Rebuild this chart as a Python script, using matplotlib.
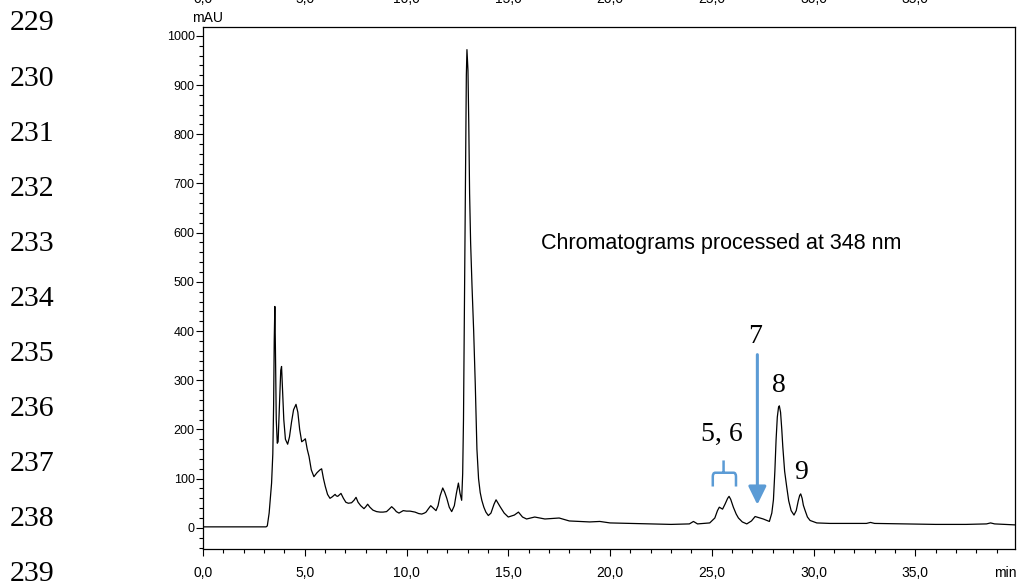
import matplotlib
matplotlib.use("Agg")
import matplotlib.pyplot as plt
from matplotlib import font_manager
from matplotlib.path import Path
from matplotlib.patches import PathPatch
from matplotlib.ticker import MultipleLocator, FuncFormatter
import matplotlib.transforms as mtransforms

# chromatogram trace (min, mAU)
time_min = [0.0, 1.5, 3.1, 3.16, 3.25, 3.37, 3.43, 3.47, 3.50, 3.53, 3.56, 3.6, 3.65,
            3.69, 3.75, 3.82, 3.86, 3.9, 3.97, 4.05, 4.16, 4.25, 4.35, 4.45, 4.57,
            4.66, 4.75, 4.85, 4.95, 5.03, 5.12, 5.21, 5.32, 5.45, 5.6, 5.75, 5.83,
            5.92, 6.01, 6.12, 6.24, 6.35, 6.49, 6.55, 6.62, 6.7, 6.78, 6.9, 7.02,
            7.14, 7.3, 7.42, 7.52, 7.62, 7.75, 7.91, 8.0, 8.09, 8.2, 8.35, 8.53,
            8.7, 8.85, 9.02, 9.15, 9.27, 9.4, 9.5, 9.63, 9.75, 9.84, 10.0, 10.17,
            10.3, 10.42, 10.6, 10.75, 10.88, 10.96, 11.08, 11.19, 11.32, 11.45,
            11.55, 11.65, 11.78, 11.88, 11.98, 12.1, 12.22, 12.35, 12.45, 12.55,
            12.63, 12.71, 12.76, 12.80, 12.85, 12.90, 12.94, 12.97, 13.02, 13.06,
            13.1, 13.15, 13.22, 13.3, 13.38, 13.46, 13.54, 13.62, 13.7, 13.8, 13.9,
            14.02, 14.15, 14.3, 14.4, 14.5, 14.6, 14.8, 15.0, 15.3, 15.5, 15.7,
            15.9, 16.3, 16.8, 17.5, 18.0, 19.0, 19.5, 20.0, 21.0, 22.0, 23.0,
            23.9, 24.1, 24.3, 24.9, 25.15, 25.28, 25.37, 25.45, 25.53, 25.65,
            25.78, 25.85, 25.93, 26.06, 26.2, 26.31, 26.5, 26.72, 26.95, 27.13,
            27.53, 27.83, 27.95, 28.03, 28.1, 28.16, 28.22, 28.28, 28.32, 28.38,
            28.44, 28.49, 28.58, 28.68, 28.78, 28.9, 29.04, 29.15, 29.25, 29.32,
            29.37, 29.44, 29.5, 29.58, 29.7, 29.83, 30.16, 30.8, 31.8,
            32.6, 32.8, 33.0, 34.5, 36.0, 37.5, 38.5, 38.7, 38.9, 39.9]
absorbance_mau = [2, 2, 2, 4, 30, 91, 150, 250, 380, 450, 360, 220, 172,
                  175, 240, 320, 328, 290, 220, 180, 170, 185, 215, 240, 251,
                  235, 200, 175, 178, 181, 160, 145, 118, 104, 112, 118, 120,
                  100, 84, 68, 60, 63, 68, 65, 64, 67, 70, 60, 52,
                  50, 51, 56, 62, 52, 45, 39, 43, 48, 42, 36, 33,
                  32, 32, 33, 38, 43, 38, 33, 30, 33, 35, 34, 34,
                  33, 32, 29, 28, 30, 32, 39, 45, 40, 35,
                  45, 65, 81, 72, 60, 42, 33, 45, 70, 91,
                  70, 56, 110, 220, 480, 760, 920, 972, 930, 820,
                  680, 580, 490, 400, 290, 160, 100, 72, 56, 42, 32,
                  25, 30, 48, 57, 50, 43, 30, 22, 26, 32, 22,
                  18, 22, 18, 20, 14, 12, 13, 10, 9, 8, 7,
                  8, 13, 8, 10, 20, 35, 42, 40, 38, 48,
                  60, 64, 58, 42, 28, 20, 12, 8, 14, 23,
                  18, 13, 30, 57, 115, 179, 225, 245, 248, 235,
                  200, 165, 115, 84, 55, 35, 26, 35, 55, 66,
                  69, 60, 46, 36, 22, 15, 10, 9, 9,
                  9, 11, 9, 8, 7, 7, 8, 10, 8, 6]

x_major = [0, 5, 10, 15, 20, 25, 30, 35]
y_major = [0, 100, 200, 300, 400, 500, 600, 700, 800, 900, 1000]
line_numbers = [229, 230, 231, 232, 233, 234, 235, 236, 237, 238, 239]

peak_labels = ["5, 6", "7", "8", "9"]
peak_label_pos = [(25.5, 189), (27.13, 389), (28.3, 289), (29.37, 112)]
arrow_7 = (27.24, 352, 47)          # x, start y, tip y
brace_56 = (25.05, 25.58, 26.19, 84, 112, 137)   # left, mid, right, leg y, bar y, top y

blue = "#5B9BD5"

names = {f.name for f in font_manager.fontManager.ttflist}
narrow = "Liberation Sans Narrow" if "Liberation Sans Narrow" in names else "Liberation Sans"
serif = "Liberation Serif"

fig = plt.figure(figsize=(10.17, 5.84), dpi=100)
ax = fig.add_axes([203 / 1017, 35 / 584, 812 / 1017, 522 / 584])

ax.plot(time_min, absorbance_mau, color="black", lw=0.9)
ax.set_xlim(0, 39.9)
ax.set_ylim(-43, 1018)

ax.xaxis.set_major_locator(MultipleLocator(5))
ax.xaxis.set_minor_locator(MultipleLocator(1))
ax.yaxis.set_major_locator(MultipleLocator(100))
ax.yaxis.set_minor_locator(MultipleLocator(20))
ax.xaxis.set_major_formatter(FuncFormatter(lambda v, p: f"{v:.1f}".replace(".", ",")))
ax.yaxis.set_major_formatter(FuncFormatter(lambda v, p: f"{v:.0f}"))
ax.tick_params(axis="both", which="major", direction="out", length=5, width=0.8)
ax.tick_params(axis="both", which="minor", direction="out", length=3, width=0.8)
ax.tick_params(axis="x", pad=7)
ax.tick_params(axis="y", pad=1)
for lab in ax.get_xticklabels():
    lab.set_fontfamily(narrow)
    lab.set_fontsize(10)
for lab in ax.get_yticklabels():
    lab.set_fontfamily(narrow)
    lab.set_fontsize(9)
for s in ax.spines.values():
    s.set_linewidth(0.9)

fig.text(208 / 1017, 1 - 18 / 584, "mAU", family=narrow, fontsize=10, ha="center", va="center")
fig.text(1005 / 1017, 1 - 573 / 584, "min", family=narrow, fontsize=10, ha="center", va="center")

ax.text(0.416, 0.585, "Chromatograms processed at 348 nm", transform=ax.transAxes,
        family="Liberation Sans", fontsize=15.5, ha="left", va="center")

# tick labels of the chart above, cut off at the top edge
top_tr = mtransforms.blended_transform_factory(ax.transData, fig.transFigure)
for v in x_major:
    fig.text(v, 1 - 3 / 584, f"{v:.1f}".replace(".", ","), transform=top_tr,
             family=narrow, fontsize=10, ha="center", va="baseline")

# manuscript line numbers
for i, n in enumerate(line_numbers):
    fig.text(10 / 1017, 1 - (23.5 + 55.06 * i) / 584, str(n), family=serif,
             fontsize=21.5, ha="left", va="center")

for txt, (px, py) in zip(peak_labels, peak_label_pos):
    ax.text(px, py, txt, family=serif, fontsize=20, ha="center", va="center")

ax.annotate("", xy=(arrow_7[0], arrow_7[2]), xytext=(arrow_7[0], arrow_7[1]),
            arrowprops=dict(arrowstyle="-|>,head_length=0.55,head_width=0.27",
                            mutation_scale=20, color=blue, lw=2.2,
                            shrinkA=0, shrinkB=0))

bl, bm, br, ly, by, ty = brace_56
r = 0.12
verts = [(bl, ly), (bl, by - 8), (bl, by), (bl + r, by), (br - r, by), (br, by),
         (br, by - 8), (br, ly), (bm, by), (bm, ty)]
codes = [Path.MOVETO, Path.LINETO, Path.CURVE3, Path.CURVE3, Path.LINETO, Path.CURVE3,
         Path.CURVE3, Path.LINETO, Path.MOVETO, Path.LINETO]
ax.add_patch(PathPatch(Path(verts, codes), fill=False, edgecolor=blue, lw=1.8))

fig.savefig("out.png", dpi=100)
